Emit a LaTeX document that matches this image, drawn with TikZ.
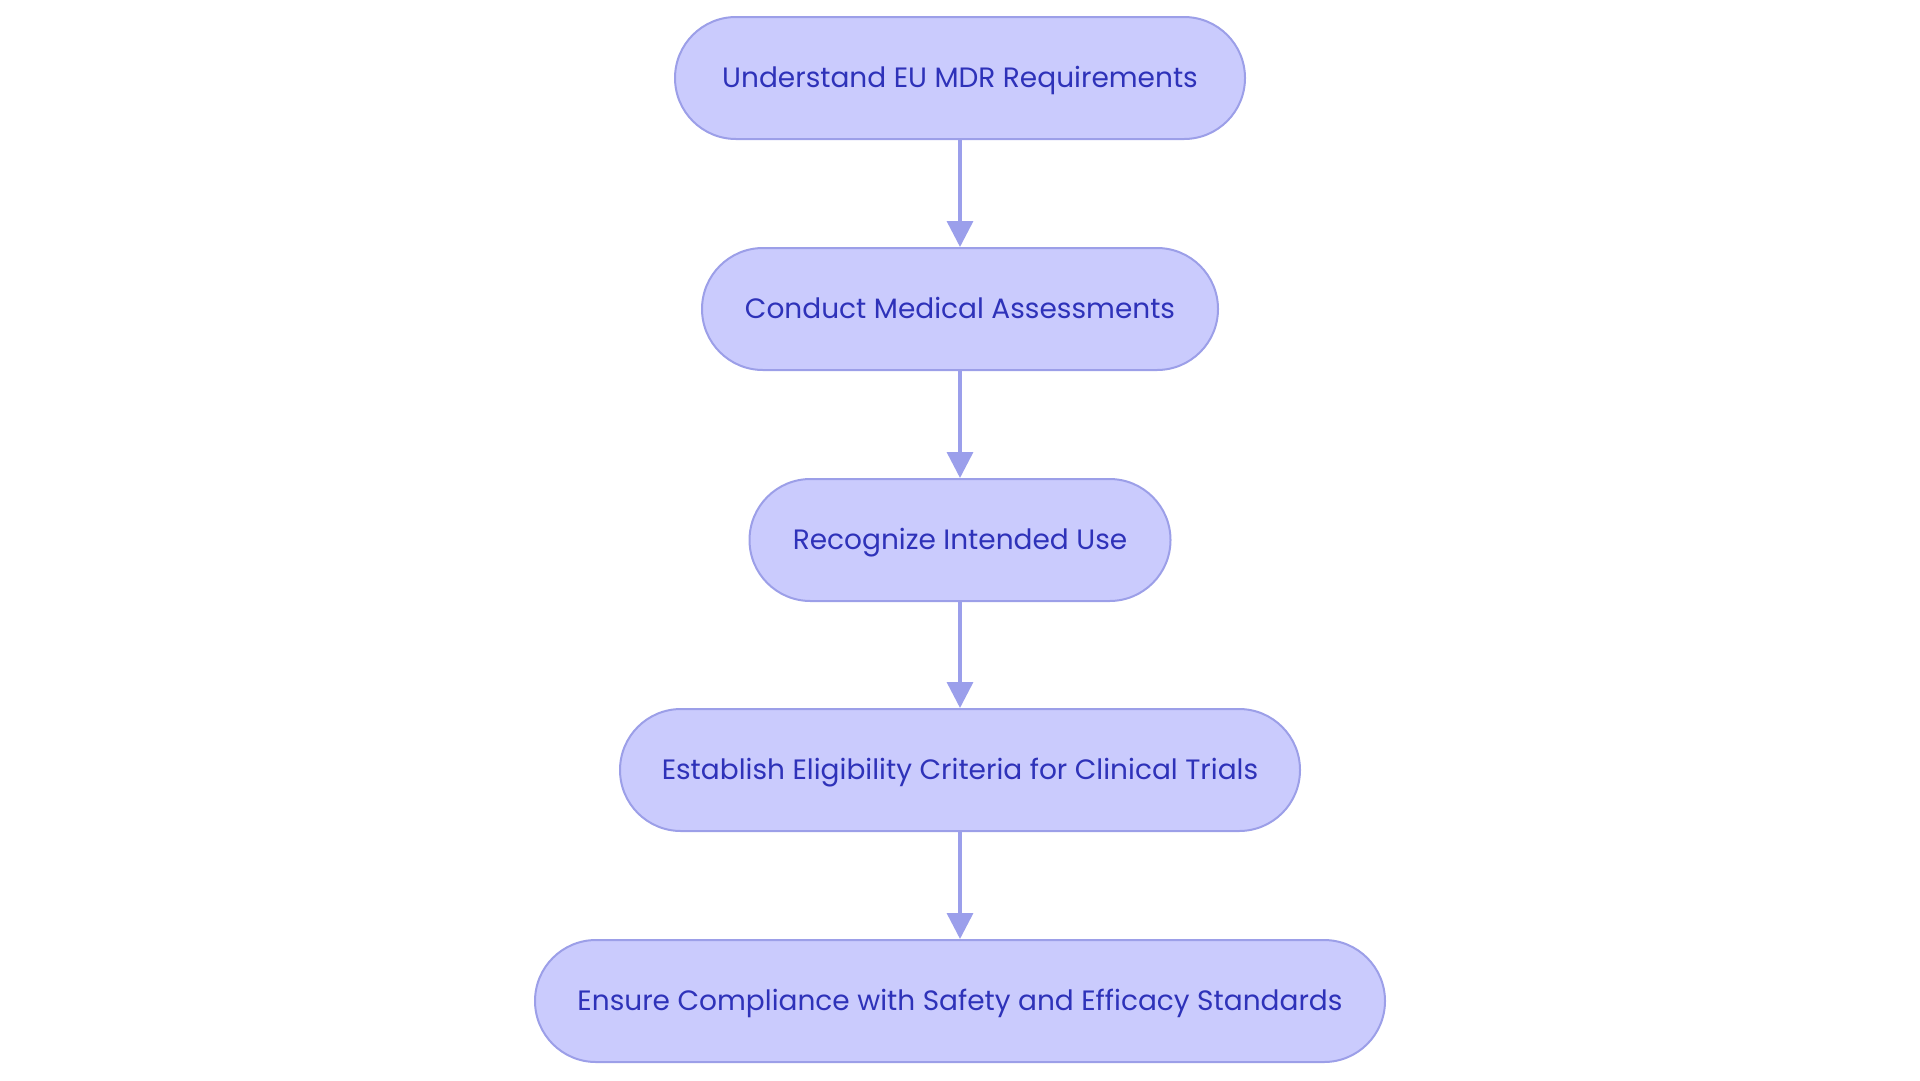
\documentclass[tikz,border=0pt]{standalone}
\usepackage{fontspec}
\setmainfont{Poppins}
\usetikzlibrary{arrows.meta}
\definecolor{boxfill}{HTML}{CACBFD}
\definecolor{boxline}{HTML}{9C9FE8}
\definecolor{boxtext}{HTML}{2E32B9}
\definecolor{arrowc}{HTML}{9B9FEB}
\tikzset{
  stepbox/.style={draw=boxline, line width=2pt, fill=boxfill, text=boxtext,
    rounded corners=61pt, minimum height=122pt, inner sep=0pt,
    text height=19.6pt, text depth=0pt,
    font=\fontsize{28}{34}\selectfont},
  flow/.style={draw=arrowc, line width=3.5pt, -{Triangle[width=26pt,length=26pt]}}
}
\begin{document}
\begin{tikzpicture}[x=1pt,y=1pt]
\useasboundingbox (0,0) rectangle (1920,-1080);
\node[stepbox, minimum width=570pt] (n1) at (960,-78) {Understand EU MDR Requirements};
\node[stepbox, minimum width=516pt] (n2) at (960,-309) {Conduct Medical Assessments};
\node[stepbox, minimum width=421pt] (n3) at (960,-540) {Recognize Intended Use};
\node[stepbox, minimum width=680pt] (n4) at (960,-770) {Establish Eligibility Criteria for Clinical Trials};
\node[stepbox, minimum width=850pt] (n5) at (960,-1001) {Ensure Compliance with Safety and Efficacy Standards};
\draw[flow] (n1) -- (n2);
\draw[flow] (n2) -- (n3);
\draw[flow] (n3) -- (n4);
\draw[flow] (n4) -- (n5);
\end{tikzpicture}
\end{document}
